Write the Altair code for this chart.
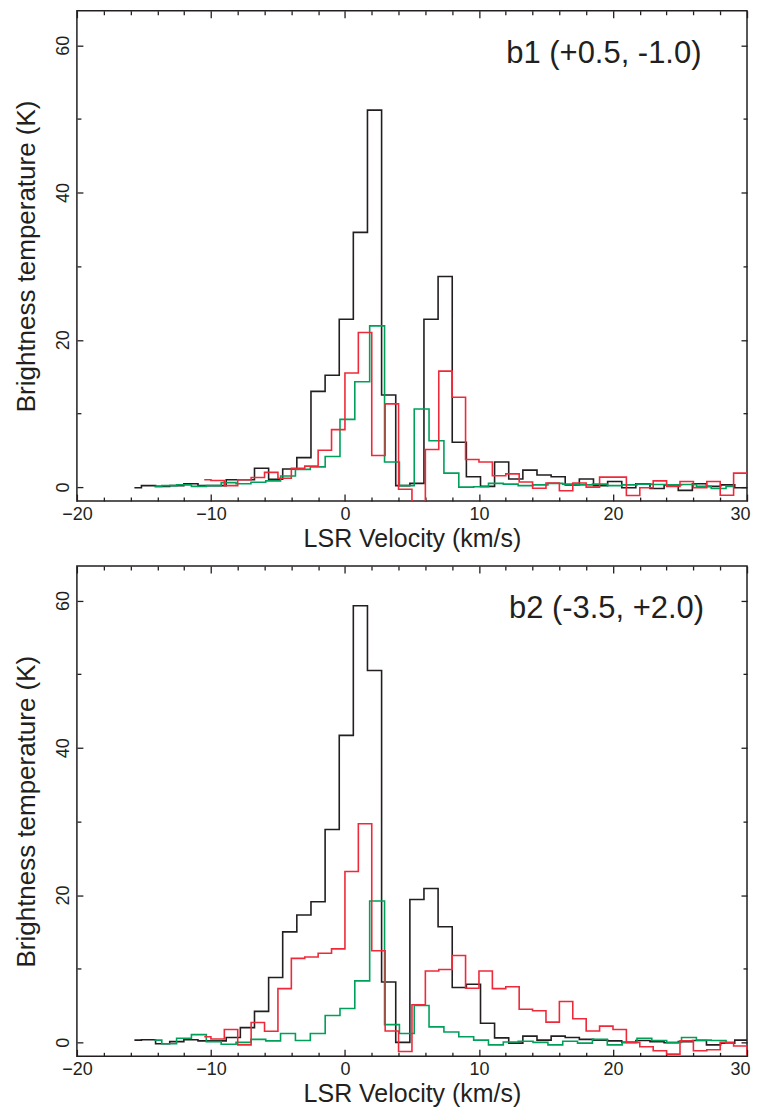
import altair as alt
import pandas as pd

# ---------------- data ----------------
# channel-centre velocities (km/s)
vel_black = [-15.71, -14.66, -13.60, -12.55, -11.49, -10.44, -9.39, -8.33, -7.28, -6.22,
             -5.17, -4.12, -3.06, -2.01, -0.95, 0.10, 1.15, 2.21, 3.26, 4.32,
             5.37, 6.42, 7.48, 8.53, 9.59, 10.64, 11.69, 12.75, 13.80, 14.86,
             15.91, 16.96, 18.02, 19.07, 20.13, 21.18, 22.23, 23.29, 24.34, 25.40,
             26.45, 27.50, 28.56, 29.61, 30.67]
vel_red = [-10.5, -9.5, -8.5, -7.5, -6.5, -5.5, -4.5, -3.5, -2.5, -1.5,
           -0.5, 0.5, 1.5, 2.5, 3.5, 4.5, 5.5, 6.5, 7.5, 8.5,
           9.5, 10.5, 11.5, 12.5, 13.5, 14.5, 15.5, 16.5, 17.5, 18.5,
           19.5, 20.5, 21.5, 22.5, 23.5, 24.5, 25.5, 26.5, 27.5, 28.5,
           29.5, 30.5]
vel_green = [-14.22, -13.11, -12.01, -10.90, -9.79, -8.68, -7.57, -6.46, -5.36, -4.25,
             -3.14, -2.03, -0.92, 0.18, 1.29, 2.40, 3.51, 4.62, 5.72, 6.83,
             7.94, 9.05, 10.16, 11.26, 12.37, 13.48, 14.59, 15.70, 16.80, 17.91,
             19.02, 20.13, 21.24, 22.34, 23.45, 24.56, 25.67, 26.78, 27.88, 28.99]

# b1 (+0.5, -1.0): brightness temperatures (K)
b1_black = [-0.1, 0.2, 0.1, 0.2, 0.45, 0.2, 0.2, 1.0, 1.0, 2.55,
            1.07, 2.46, 4.0, 13.0, 15.2, 22.8, 34.6, 51.2, 12.5, 0.2,
            0.5, 22.8, 28.6, 6.1, 1.4, 0.1, 3.4, 1.1, 2.3, 1.65,
            1.4, 0.3, 1.1, 0.2, 0.75, -0.1, 0.45, -0.2, 0.3, -0.45,
            0.45, 0.1, 0.3, -0.1, -0.1]
b1_red = [1.0, 0.9, 0.2, 1.0, 1.3, 2.0, 1.2, 2.55, 2.85, 5.0,
          7.8, 15.5, 21.0, 4.3, 11.3, -0.3, -3.5, 5.1, 15.75, 12.2,
          3.75, 3.4, 1.55, 1.8, 0.7, -0.15, 0.55, -0.5, 0.55, 0.0,
          1.35, 1.35, -1.15, -0.1, 0.85, 0.1, 0.75, -0.1, 0.75, -1.1,
          1.9, 1.9]
b1_green = [0.1, 0.2, 0.3, 0.1, 0.2, 0.6, 0.45, 0.65, 0.85, 1.5,
            2.4, 2.75, 4.15, 9.2, 14.3, 21.9, 3.4, 0.2, 10.6, 6.3,
            1.9, 0.0, 0.05, 0.5, 0.4, 0.2, 0.3, 0.5, 0.4, 0.3,
            0.4, 0.2, 0.3, 0.4, 0.35, 0.3, 0.35, 0.1, -0.2, 0.1]

# b2 (-3.5, +2.0)
b2_black = [0.3, 0.35, -0.2, 0.1, 0.35, 0.2, 0.2, 0.65, 2.0, 4.2,
            8.8, 15.0, 17.3, 19.1, 28.9, 41.7, 59.3, 50.5, 8.2, 0.0,
            19.4, 20.9, 15.7, 7.45, 7.9, 2.6, 0.6, -0.1, 0.85, 0.3,
            0.85, 0.65, 0.4, 0.3, 0.2, 0.0, 0.25, 0.1, -0.05, 0.1,
            0.25, -0.35, -0.1, 0.3, 0.3]
b2_red = [0.75, 0.45, 1.75, -0.35, 2.7, 1.5, 7.3, 11.4, 11.6, 12.1,
          12.7, 23.2, 29.7, 12.45, 1.55, -1.25, 5.1, 9.7, 9.9, 11.8,
          7.35, 9.7, 7.3, 7.55, 4.5, 4.3, 2.75, 5.55, 3.2, 1.55,
          2.2, 1.75, 0.0, -0.6, -1.15, -1.6, 0.2, -1.15, -1.0, 0.0,
          -0.5, -1.7]
b2_green = [0.3, -0.2, 0.55, 1.05, 0.1, -0.25, 0.0, 0.4, 0.2, 1.2,
            0.25, 1.2, 3.65, 4.6, 8.35, 19.2, 2.4, 1.2, 5.0, 2.1,
            1.4, 0.75, 0.3, -0.35, 0.05, 0.15, 0.0, -0.35, 0.15, -0.1,
            0.4, -0.35, 0.0, 0.55, 0.25, 0.0, 0.65, 0.3, 0.25, -0.1]

panel_labels = ["b1 (+0.5, -1.0)", "b2 (-3.5, +2.0)"]
label_vel = [26.6, 26.8]
label_tb = [57.6, 57.6]

x_major = [-20, -10, 0, 10, 20, 30]
x_minor = [-18, -16, -14, -12, -8, -6, -4, -2, 2, 4, 6, 8, 12, 14, 16, 18, 22, 24, 26, 28]
y_major = [0, 20, 40, 60]
y_minor = [10, 30, 50]

series_names = ["black", "green", "red"]
series_colors = ["#231f20", "#00a05a", "#ee2a3a"]

FONT = "Liberation Sans"


def long_df(black, green, red):
    rows = []
    for name, vel, vals in (("black", vel_black, black), ("green", vel_green, green), ("red", vel_red, red)):
        for v, t in zip(vel, vals):
            rows.append({"v": v, "t": t, "s": name})
    return pd.DataFrame(rows)


xs = alt.Scale(domain=[-20, 30], nice=False, zero=False)
ys = alt.Scale(domain=[-1.9, 64.7], nice=False, zero=False)

W, H = 671, 491


def panel(df, label_idx):
    base = alt.Chart(df)
    lines = base.mark_line(interpolate="step", clip=True, strokeWidth=1.6).encode(
        x=alt.X("v:Q", scale=xs, axis=alt.Axis(
            orient="bottom", values=x_major, tickSize=7, offset=-7, domain=False, grid=False,
            tickColor="#231f20", tickWidth=1.3,
            labelFont=FONT, labelFontSize=18, labelColor="#231f20", labelPadding=4, labelFlush=False,
            labelOffset={"condition": {"test": "datum.value === 30", "value": -7}, "value": 0},
            title="LSR Velocity (km/s)", titleFont=FONT, titleFontSize=25, titleFontWeight="normal",
            titleColor="#231f20", titlePadding=3)),
        y=alt.Y("t:Q", scale=ys, axis=alt.Axis(
            orient="left", values=y_major, tickSize=6, offset=-6, domain=False, grid=False,
            tickColor="#231f20", tickWidth=1.3,
            labelFont=FONT, labelFontSize=18, labelColor="#231f20", labelPadding=4,
            labelAngle=-90, labelAlign="center", labelBaseline="bottom", labelFlush=False,
            title="Brightness temperature (K)", titleFont=FONT, titleFontSize=26,
            titleFontWeight="normal", titleColor="#231f20", titlePadding=15)),
        color=alt.Color("s:N", scale=alt.Scale(domain=series_names, range=series_colors), legend=None),
        detail="s:N",
    )

    def tick_layer(xorient, xvals, xsize, yorient, yvals, ysize):
        return base.mark_point(opacity=0, clip=True).encode(
            x=alt.X("v:Q", scale=xs, title=None, axis=alt.Axis(
                orient=xorient, values=xvals, tickSize=xsize, offset=-xsize, domain=False,
                grid=False, labels=False, tickColor="#231f20", tickWidth=1.3)),
            y=alt.Y("t:Q", scale=ys, title=None, axis=alt.Axis(
                orient=yorient, values=yvals, tickSize=ysize, offset=-ysize, domain=False,
                grid=False, labels=False, tickColor="#231f20", tickWidth=1.3)),
        )

    minor_bl = tick_layer("bottom", x_minor, 4, "left", y_minor, 4)
    major_tr = tick_layer("top", x_major, 7, "right", y_major, 6)
    minor_tr = tick_layer("top", x_minor, 4, "right", y_minor, 4)

    lab_df = pd.DataFrame({"label": [panel_labels[label_idx]],
                           "v": [label_vel[label_idx]], "t": [label_tb[label_idx]]})
    label = alt.Chart(lab_df).mark_text(
        align="right", baseline="alphabetic", font=FONT, fontSize=31, color="#231f20"
    ).encode(
        x=alt.X("v:Q", scale=xs, axis=None),
        y=alt.Y("t:Q", scale=ys, axis=None),
        text="label:N",
    )

    return alt.layer(lines, minor_bl, major_tr, minor_tr, label).resolve_axis(
        x="independent", y="independent"
    ).properties(width=W, height=H)


top = panel(long_df(b1_black, b1_green, b1_red), 0)
bottom = panel(long_df(b2_black, b2_green, b2_red), 1)

chart = alt.vconcat(top, bottom, spacing=12).properties(
    padding={"left": 5, "top": 0, "right": 0, "bottom": 0}
).configure_view(stroke="#231f20", strokeWidth=1.5)

chart.save("out.html", embed_options={"renderer": "svg", "actions": False})
